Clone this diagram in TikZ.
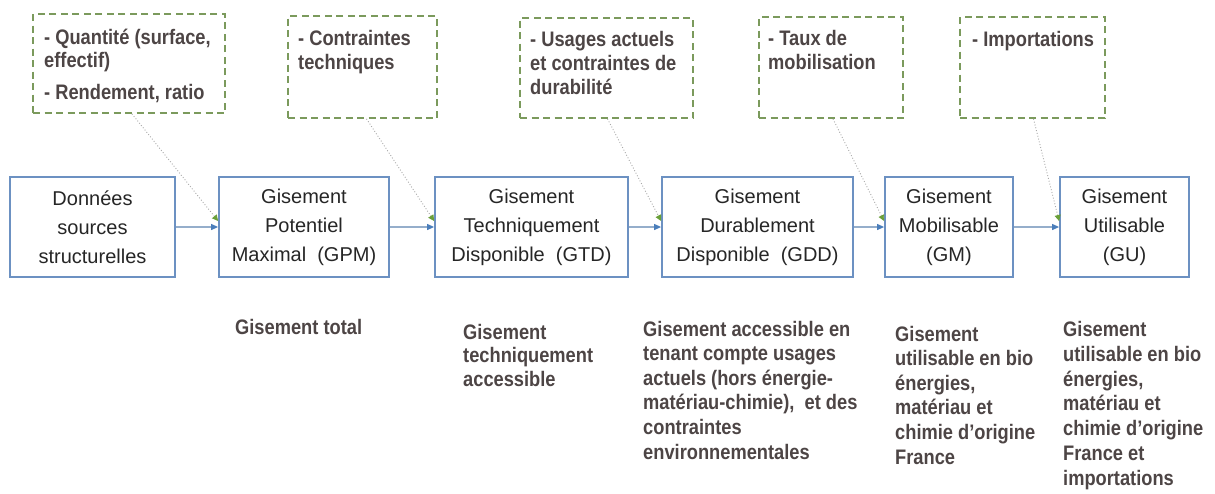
\documentclass[tikz,border=0pt]{standalone}
\usepackage{fontspec}
\setmainfont{Liberation Sans}
\newfontfamily\condfont[FakeStretch=0.87]{Liberation Sans}
\usetikzlibrary{arrows.meta}

\definecolor{boxblue}{HTML}{6C91C2}
\definecolor{textdark}{HTML}{262626}
\definecolor{notegrey}{HTML}{4D4545}
\definecolor{dashgreen}{HTML}{7B9A5C}
\definecolor{flowline}{HTML}{95AECB}
\definecolor{flowhead}{HTML}{4A7EBB}
\definecolor{hintgrey}{HTML}{A8A8A8}
\definecolor{hintgreen}{HTML}{6AA039}

\tikzset{
  stage/.style={draw=boxblue, line width=1.8pt, fill=white, minimum height=100pt,
    align=center, text=textdark, inner sep=0pt, font=\fontsize{20}{29}\selectfont},
  factor/.style={draw=dashgreen, line width=1.8pt, dash pattern=on 7pt off 4.5pt,
    inner sep=0pt},
  % multi-line texts below are placed by the baseline of their last line
  factortext/.style={anchor=base west, inner sep=0pt, align=left, text=notegrey,
    font=\condfont\bfseries\fontsize{21}{24}\selectfont},
  remark/.style={anchor=base west, inner sep=0pt, align=left, text=notegrey,
    font=\condfont\bfseries\fontsize{21}{25}\selectfont},
  flow/.style={draw=flowline, line width=1.1pt,
    -{Triangle[length=7pt, width=6pt, color=flowhead]}},
  hint/.style={draw=hintgrey, line width=0.9pt, dotted,
    -{Triangle[length=6pt, width=6pt, color=hintgreen]}}
}

\begin{document}
\begin{tikzpicture}[x=1pt, y=-1pt]
  \fill[white] (0,0) rectangle (1215,493);
  \useasboundingbox (0,0) rectangle (1215,493);

  % chain of stages
  \node[stage, minimum width=165pt] (b1) at (92.5,227)  {Données\\sources\\structurelles};
  \node[stage, minimum width=170pt] (b2) at (304,227)   {Gisement\\Potentiel\\Maximal\ \ (GPM)};
  \node[stage, minimum width=193pt] (b3) at (531.5,227) {Gisement\\Techniquement\\Disponible\ \ (GTD)};
  \node[stage, minimum width=191pt] (b4) at (757.5,227) {Gisement\\Durablement\\Disponible\ \ (GDD)};
  \node[stage, minimum width=128pt] (b5) at (949,227)   {Gisement\\Mobilisable\\(GM)};
  \node[stage, minimum width=129pt] (b6) at (1124.5,227){Gisement\\Utilisable\\(GU)};

  % dashed boxes with the factors
  \node[factor, minimum width=192pt, minimum height=99pt]  (d1) at (129,63.5) {};
  \node[factor, minimum width=149pt, minimum height=102pt] (d2) at (362.5,67) {};
  \node[factor, minimum width=173pt, minimum height=100pt] (d3) at (606.5,68) {};
  \node[factor, minimum width=144pt, minimum height=101pt] (d4) at (831,67.5) {};
  \node[factor, minimum width=145pt, minimum height=101pt] (d5) at (1032.5,67.5) {};

  \node[factortext] (t1) at (44,99.5) {- Quantité (surface,\\[-1.5pt]effectif)\\[8.5pt]- Rendement, ratio};
  \node[factortext] (t2) at (298,69)  {- Contraintes\\techniques};
  \node[factortext] (t3) at (530,94)  {- Usages actuels\\et contraintes de\\durabilité};
  \node[factortext] (t4) at (768,69)  {- Taux de\\mobilisation};
  \node[factortext] (t5) at (972,46)  {- Importations};

  % flow between stages
  \draw[flow] (b1.east) -- (b2.west);
  \draw[flow] (b2.east) -- (b3.west);
  \draw[flow] (b3.east) -- (b4.west);
  \draw[flow] (b4.east) -- (b5.west);
  \draw[flow] (b5.east) -- (b6.west);

  % factors acting on each stage
  \draw[hint] ([xshift=3pt]d1.south) -- ([yshift=6pt]b2.west);
  \draw[hint] ([xshift=4pt]d2.south) -- ([yshift=6pt]b3.west);
  \draw[hint] ([xshift=1pt]d3.south) -- ([yshift=6pt]b4.west);
  \draw[hint] ([xshift=2pt]d4.south) -- ([yshift=6pt]b5.west);
  \draw[hint] ([xshift=1pt]d5.south) -- ([yshift=6pt]b6.west);

  % descriptions below the stages
  \node[remark] (r2) at (235,334) {Gisement total};
  \node[remark, font=\condfont\bfseries\fontsize{21}{23.5}\selectfont] (r3) at (463,386)
    {Gisement\\techniquement\\accessible};
  \node[remark, font=\condfont\bfseries\fontsize{21}{24.6}\selectfont] (r4) at (643,459)
    {Gisement accessible en\\tenant compte usages\\actuels (hors énergie-\\matériau-chimie),\ \ et des\\contraintes\\environnementales};
  \node[remark, font=\condfont\bfseries\fontsize{21}{24.6}\selectfont] (r5) at (895,464)
    {Gisement\\utilisable en bio\\énergies,\\matériau et\\chimie d’origine\\France};
  \node[remark, font=\condfont\bfseries\fontsize{21}{24.7}\selectfont] (r6) at (1063,485)
    {Gisement\\utilisable en bio\\énergies,\\matériau et\\chimie d’origine\\France et\\importations};
\end{tikzpicture}
\end{document}
